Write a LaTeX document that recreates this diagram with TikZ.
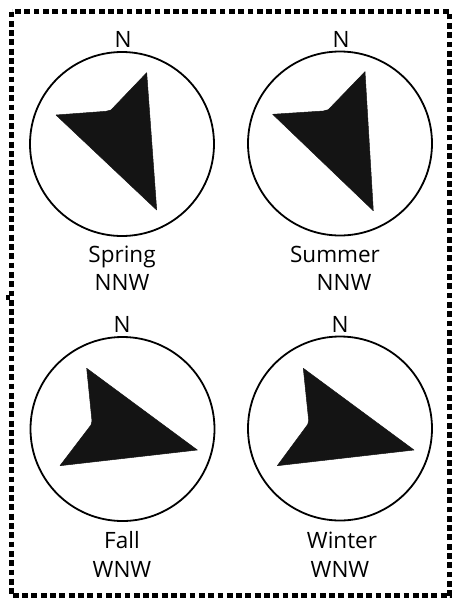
\documentclass[tikz,border=0pt]{standalone}
\usepackage{fontspec}
\setmainfont{Open Sans}
\begin{document}
\begin{tikzpicture}[x=1pt,y=-1pt,
  frame/.style={line width=5.5pt,dash pattern=on 5.8pt off 3.5pt},
  dial/.style={draw=black,line width=1.8pt,circle,minimum size=184pt,inner sep=0pt},
  vane/.style={fill=black!92,draw=black!92,line width=0.5pt,line join=round},
  lbl/.style={font=\fontsize{22.5}{26}\selectfont,anchor=base,inner sep=0pt}]
\useasboundingbox (0,0) rectangle (451,598);
\draw[frame] (11.5,11.5) rectangle (450,596);
\fill (6,295) rectangle (10,300);
% dials
\node[dial] (c1) at (122,144) {};
\node[dial] (c2) at (340,143.5) {};
\node[dial] (c3) at (122.5,429) {};
\node[dial] (c4) at (340,428.5) {};
% north labels
\node[lbl] (n1) at (123,47) {N};
\node[lbl] (n2) at (341,47) {N};
\node[lbl] (n3) at (122,332) {N};
\node[lbl] (n4) at (340,332) {N};
% vanes
\draw[vane] (146.7,72.7) -- (111,110) .. controls (109,111) .. (106,111.3) -- (56,115) -- (156.7,210) -- cycle;
\draw[vane] (365,71.7) -- (328.3,109.7) .. controls (326.3,110.7) .. (323.3,111) -- (272.7,114.3) -- (373.3,210.7) -- cycle;
\draw[vane] (86.7,368.3) -- (92,421) .. controls (92.3,423.3) .. (91,425) -- (60,465.7) -- (197.3,450) -- cycle;
\draw[vane] (303.3,368.3) -- (308.7,420.5) .. controls (309,422.7) .. (307.7,424.5) -- (277.3,465.7) -- (414,450) -- cycle;
% season labels
\node[lbl] (s1) at (122,262) {Spring};
\node[lbl] (d1) at (122,290) {NNW};
\node[lbl] (s2) at (335,262) {Summer};
\node[lbl] (d2) at (344,290) {NNW};
\node[lbl] (s3) at (122,548) {Fall};
\node[lbl] (d3) at (122,577) {WNW};
\node[lbl] (s4) at (342,548) {Winter};
\node[lbl] (d4) at (340,577) {WNW};
\end{tikzpicture}
\end{document}
